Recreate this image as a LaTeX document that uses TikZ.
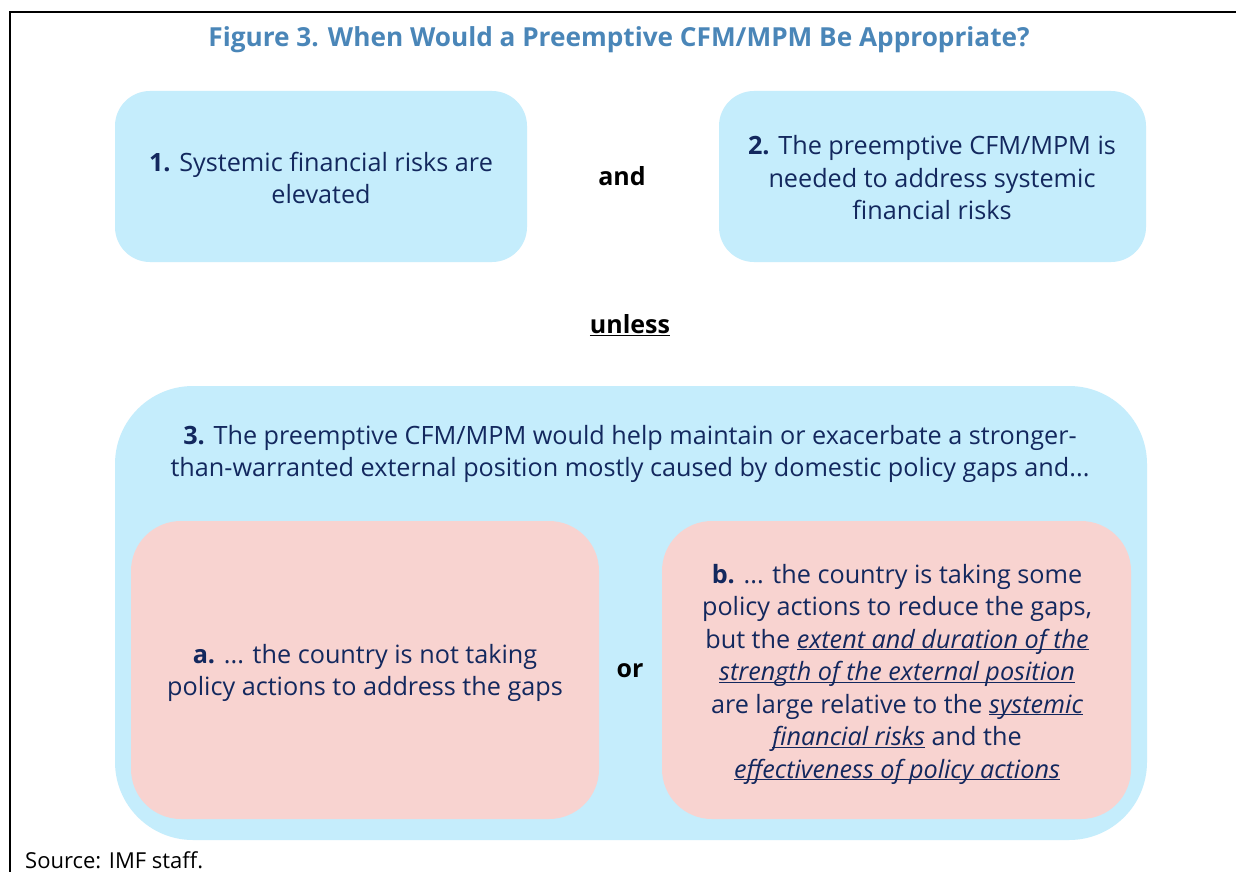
\documentclass[tikz,border=0pt]{standalone}
\usepackage{fontspec}
\setmainfont{Open Sans}
\definecolor{titleblue}{HTML}{4A86B8}
\definecolor{navy}{HTML}{13285E}
\definecolor{lightblue}{HTML}{C5EDFC}
\definecolor{pinkish}{HTML}{F8D3D0}
\tikzset{
  txt/.style={text=navy, font=\fontsize{25.2}{32.5}\selectfont, align=center, inner sep=0pt},
  bluebox/.style={fill=lightblue, draw=none},
  pinkbox/.style={fill=pinkish, draw=none},
  conj/.style={text=black, font=\fontsize{25}{28}\selectfont\bfseries, inner sep=0pt},
}
\newcommand{\ul}[1]{\underline{\smash{\itshape #1}}}
\begin{document}
\begin{tikzpicture}[x=1pt,y=-1pt]
\useasboundingbox (0,0) rectangle (1236,872);
\fill[white] (0,0) rectangle (1236,872);
\draw[line width=2.6pt] (1236,12) -- (10,12) -- (10,872);
\node[text=titleblue, font=\fontsize{26.2}{30}\selectfont\bfseries, inner sep=0pt] (title) at (619,40) {Figure 3. When Would a Preemptive CFM/MPM Be Appropriate?};
\fill[bluebox, rounded corners=35pt] (115,91) rectangle (527,262);
\fill[bluebox, rounded corners=35pt] (719,91) rectangle (1146,262);
\node[txt] (b1) at (321,178) {\textbf{1.} Systemic financial risks are\\elevated};
\node[txt] (b2) at (932,178) {\textbf{2.} The preemptive CFM/MPM is\\needed to address systemic\\financial risks};
\node[conj] (and) at (622,176) {and};
\node[conj] (unless) at (630,325) {\underline{unless}};
\fill[bluebox, rounded corners=78pt] (115,386) rectangle (1147,840);
\node[txt] (b3) at (630,454) {\textbf{3.} The preemptive CFM/MPM would help maintain or exacerbate a stronger-\\than-warranted external position mostly caused by domestic policy gaps and...};
\fill[pinkbox, rounded corners=50pt] (131,521) rectangle (599,819);
\fill[pinkbox, rounded corners=50pt] (662,521) rectangle (1131,819);
\node[txt] (ba) at (365,673) {\textbf{a.} ... the country is not taking\\policy actions to address the gaps};
\node[txt] (bb) at (897,672) {\textbf{b.} ... the country is taking some\\policy actions to reduce the gaps,\\but the \ul{extent and duration of the}\\\ul{strength of the external position}\\are large relative to the \ul{systemic}\\\ul{financial risks} and the\\\ul{effectiveness of policy actions}};
\node[conj] (or) at (630,671) {or};
\node[anchor=west, text=black, font=\fontsize{22}{26}\selectfont, inner sep=0pt] (src) at (25,860) {Source: IMF staff.};
\end{tikzpicture}
\end{document}
